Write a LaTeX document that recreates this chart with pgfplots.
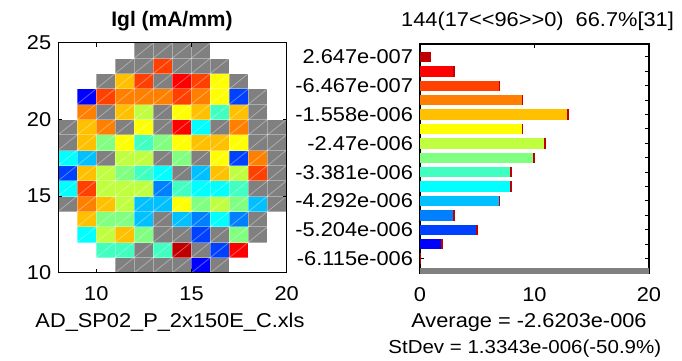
\documentclass[border=0pt]{standalone}
\usepackage{fontspec}
\setmainfont{Liberation Sans}[FakeStretch=1.09]
\newfontfamily\titlefont{Liberation Sans}
\usepackage{pgfplots}
\pgfplotsset{compat=1.18}
\usepackage{pgfplotstable}

\pgfplotsset{
  colormap={wafer}{rgb255=(192,0,0) rgb255=(255,0,0) rgb255=(255,64,0) rgb255=(255,128,0)
    rgb255=(255,192,0) rgb255=(255,255,0) rgb255=(192,255,64) rgb255=(128,255,128)
    rgb255=(64,255,192) rgb255=(0,255,255) rgb255=(0,192,255) rgb255=(0,128,255)
    rgb255=(0,64,255) rgb255=(0,0,255) rgb255=(128,128,128) rgb255=(255,255,255)},
}
\definecolor{c0}{RGB}{192,0,0}
\definecolor{c1}{RGB}{255,0,0}
\definecolor{c2}{RGB}{255,64,0}
\definecolor{c3}{RGB}{255,128,0}
\definecolor{c4}{RGB}{255,192,0}
\definecolor{c5}{RGB}{255,255,0}
\definecolor{c6}{RGB}{192,255,64}
\definecolor{c7}{RGB}{128,255,128}
\definecolor{c8}{RGB}{64,255,192}
\definecolor{c9}{RGB}{0,255,255}
\definecolor{c10}{RGB}{0,192,255}
\definecolor{c11}{RGB}{0,128,255}
\definecolor{c12}{RGB}{0,64,255}
\definecolor{c13}{RGB}{0,0,255}
\definecolor{cg}{RGB}{128,128,128}

% wafer map: x y colour-index (14 = invalid/grey, 15 = empty)
\pgfplotstableread{
x y c
8.5 10.5 15
9.5 10.5 15
10.5 10.5 15
11.5 10.5 14
12.5 10.5 14
13.5 10.5 14
14.5 10.5 14
15.5 10.5 13
16.5 10.5 14
17.5 10.5 15
18.5 10.5 15
19.5 10.5 15
8.5 11.5 15
9.5 11.5 15
10.5 11.5 8
11.5 11.5 8
12.5 11.5 14
13.5 11.5 8
14.5 11.5 0
15.5 11.5 14
16.5 11.5 12
17.5 11.5 1
18.5 11.5 15
19.5 11.5 15
8.5 12.5 15
9.5 12.5 9
10.5 12.5 6
11.5 12.5 4
12.5 12.5 7
13.5 12.5 14
14.5 12.5 14
15.5 12.5 12
16.5 12.5 14
17.5 12.5 7
18.5 12.5 14
19.5 12.5 15
8.5 13.5 15
9.5 13.5 4
10.5 13.5 7
11.5 13.5 7
12.5 13.5 10
13.5 13.5 14
14.5 13.5 10
15.5 13.5 11
16.5 13.5 9
17.5 13.5 11
18.5 13.5 14
19.5 13.5 15
8.5 14.5 14
9.5 14.5 3
10.5 14.5 4
11.5 14.5 6
12.5 14.5 10
13.5 14.5 10
14.5 14.5 5
15.5 14.5 7
16.5 14.5 6
17.5 14.5 7
18.5 14.5 10
19.5 14.5 14
8.5 15.5 9
9.5 15.5 2
10.5 15.5 6
11.5 15.5 6
12.5 15.5 6
13.5 15.5 11
14.5 15.5 8
15.5 15.5 9
16.5 15.5 9
17.5 15.5 8
18.5 15.5 14
19.5 15.5 14
8.5 16.5 12
9.5 16.5 4
10.5 16.5 6
11.5 16.5 7
12.5 16.5 8
13.5 16.5 9
14.5 16.5 14
15.5 16.5 10
16.5 16.5 4
17.5 16.5 6
18.5 16.5 2
19.5 16.5 14
8.5 17.5 9
9.5 17.5 10
10.5 17.5 14
11.5 17.5 6
12.5 17.5 6
13.5 17.5 14
14.5 17.5 7
15.5 17.5 14
16.5 17.5 5
17.5 17.5 12
18.5 17.5 3
19.5 17.5 14
8.5 18.5 14
9.5 18.5 4
10.5 18.5 7
11.5 18.5 5
12.5 18.5 8
13.5 18.5 7
14.5 18.5 5
15.5 18.5 4
16.5 18.5 4
17.5 18.5 5
18.5 18.5 14
19.5 18.5 14
8.5 19.5 14
9.5 19.5 4
10.5 19.5 3
11.5 19.5 14
12.5 19.5 5
13.5 19.5 14
14.5 19.5 1
15.5 19.5 9
16.5 19.5 14
17.5 19.5 3
18.5 19.5 14
19.5 19.5 14
8.5 20.5 15
9.5 20.5 3
10.5 20.5 14
11.5 20.5 4
12.5 20.5 6
13.5 20.5 14
14.5 20.5 5
15.5 20.5 4
16.5 20.5 8
17.5 20.5 4
18.5 20.5 14
19.5 20.5 15
8.5 21.5 15
9.5 21.5 13
10.5 21.5 2
11.5 21.5 3
12.5 21.5 3
13.5 21.5 3
14.5 21.5 2
15.5 21.5 3
16.5 21.5 5
17.5 21.5 12
18.5 21.5 14
19.5 21.5 15
8.5 22.5 15
9.5 22.5 15
10.5 22.5 14
11.5 22.5 4
12.5 22.5 2
13.5 22.5 14
14.5 22.5 1
15.5 22.5 2
16.5 22.5 5
17.5 22.5 14
18.5 22.5 15
19.5 22.5 15
8.5 23.5 15
9.5 23.5 15
10.5 23.5 15
11.5 23.5 14
12.5 23.5 14
13.5 23.5 2
14.5 23.5 14
15.5 23.5 14
16.5 23.5 14
17.5 23.5 15
18.5 23.5 15
19.5 23.5 15
8.5 24.5 15
9.5 24.5 15
10.5 24.5 15
11.5 24.5 15
12.5 24.5 14
13.5 24.5 14
14.5 24.5 14
15.5 24.5 14
16.5 24.5 15
17.5 24.5 15
18.5 24.5 15
19.5 24.5 15
}\wafer

\begin{document}
\begin{tikzpicture}
\useasboundingbox (0,0) rectangle (341pt,-180pt);
\pgfplotsset{
  mstyle/.style={
    scale only axis,
    axis line style={line width=0.6pt},
    tick style={black, line width=0.5pt},
    major tick length=2pt,
    tick align=inside,
    /pgf/number format/assume math mode=true,
    tick label style={font=\fontsize{10}{12}\selectfont},
    xticklabel style={yshift=-3.5pt},
  },
  hb/.style={xbar, bar width=0.72, bar shift=0pt, draw=none},
}
% ---------------- wafer map ----------------
\begin{axis}[mstyle,
  at={(29.15pt,-136.35pt)}, anchor=south west,
  width=114.2pt, height=115pt,
  xmin=8, xmax=20, ymin=10, ymax=25,
  xtick={10,15,20}, ytick={10,15,20,25},
  minor xtick={9,...,19}, minor ytick={11,...,24},
  minor tick length=0pt,
  minor grid style={white, opacity=0.35, line width=0.4pt},
  grid=minor,
  axis on top,
  colormap name=wafer,
  unbounded coords=jump,
]
\addplot[matrix plot*, mesh/cols=12, point meta=explicit, colormap access=direct]
  table[x=x, y=y, meta=c] {\wafer};
\addplot[white, opacity=0.35, line width=0.4pt, forget plot] coordinates {
(19,10) (20,11) (nan,nan)
(18,10) (20,12) (nan,nan)
(17,10) (20,13) (nan,nan)
(16,10) (20,14) (nan,nan)
(15,10) (20,15) (nan,nan)
(14,10) (20,16) (nan,nan)
(13,10) (20,17) (nan,nan)
(12,10) (20,18) (nan,nan)
(11,10) (20,19) (nan,nan)
(10,10) (20,20) (nan,nan)
(9,10) (20,21) (nan,nan)
(8,10) (20,22) (nan,nan)
(8,11) (20,23) (nan,nan)
(8,12) (20,24) (nan,nan)
(8,13) (20,25) (nan,nan)
(8,14) (19,25) (nan,nan)
(8,15) (18,25) (nan,nan)
(8,16) (17,25) (nan,nan)
(8,17) (16,25) (nan,nan)
(8,18) (15,25) (nan,nan)
(8,19) (14,25) (nan,nan)
(8,20) (13,25) (nan,nan)
(8,21) (12,25) (nan,nan)
(8,22) (11,25) (nan,nan)
(8,23) (10,25) (nan,nan)
(8,24) (9,25)
};
\end{axis}
% ---------------- histogram ----------------
\begin{axis}[mstyle,
  at={(210pt,-136.5pt)}, anchor=south west,
  width=114.5pt, height=114.5pt,
  xmin=0, xmax=20, ymin=0, ymax=15.9,
  xtick={0,10,20},
  ytick={1,...,15},
  yticklabels={{-6.115e-006},{},{-5.204e-006},{},{-4.292e-006},{},{-3.381e-006},{},{-2.47e-006},{},{-1.558e-006},{},{-6.467e-007},{},{2.647e-007}},
  unbounded coords=jump,
]
\addplot[hb, fill=cg] coordinates {(48,0)};
\addplot[hb, fill=c13] coordinates {(2,2)};
\addplot[hb, fill=c12] coordinates {(5,3)};
\addplot[hb, fill=c11] coordinates {(3,4)};
\addplot[hb, fill=c10] coordinates {(7,5)};
\addplot[hb, fill=c9] coordinates {(8,6)};
\addplot[hb, fill=c8] coordinates {(8,7)};
\addplot[hb, fill=c7] coordinates {(10,8)};
\addplot[hb, fill=c6] coordinates {(11,9)};
\addplot[hb, fill=c5] coordinates {(9,10)};
\addplot[hb, fill=c4] coordinates {(13,11)};
\addplot[hb, fill=c3] coordinates {(9,12)};
\addplot[hb, fill=c2] coordinates {(7,13)};
\addplot[hb, fill=c1] coordinates {(3,14)};
\addplot[hb, fill=c0] coordinates {(1,15)};
% dark red end caps of the bars
\addplot[c0, line width=0.9pt] coordinates {
(0.05,0.64) (0.05,1.36) (nan,nan)
(1.95,1.64) (1.95,2.36) (nan,nan)
(4.95,2.64) (4.95,3.36) (nan,nan)
(2.95,3.64) (2.95,4.36) (nan,nan)
(6.95,4.64) (6.95,5.36) (nan,nan)
(7.95,5.64) (7.95,6.36) (nan,nan)
(7.95,6.64) (7.95,7.36) (nan,nan)
(9.95,7.64) (9.95,8.36) (nan,nan)
(10.95,8.64) (10.95,9.36) (nan,nan)
(8.95,9.64) (8.95,10.36) (nan,nan)
(12.95,10.64) (12.95,11.36) (nan,nan)
(8.95,11.64) (8.95,12.36) (nan,nan)
(6.95,12.64) (6.95,13.36) (nan,nan)
(2.95,13.64) (2.95,14.36)
};
\end{axis}
% ---------------- texts ----------------
\node[anchor=base, font=\titlefont\bfseries\fontsize{10.5}{12}\selectfont] at (86pt,-13.35pt) {Igl (mA/mm)};
\node[anchor=base, font=\fontsize{10}{12}\selectfont] at (268.8pt,-13.35pt) {144(17<\kern0pt<96>\kern0pt>0)\ \ 66.7\%[31]};
\node[anchor=base, font=\fontsize{10}{12}\selectfont] at (85pt,-163.5pt) {AD\_SP02\_P\_2x150E\_C.xls};
\node[anchor=base, font=\fontsize{10}{12}\selectfont] at (264.5pt,-163.5pt) {Average = -2.6203e-006};
\node[anchor=base west, inner sep=0pt, font=\fontsize{9.4}{11}\selectfont] at (194pt,-176.5pt) {StDev = 1.3343e-006(-50.9\%)};
\end{tikzpicture}
\end{document}
